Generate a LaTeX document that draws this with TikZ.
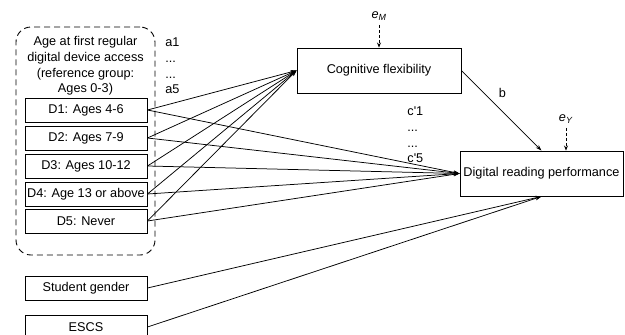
\documentclass[tikz,border=0pt]{standalone}
\usepackage{fontspec}
\setmainfont{Liberation Sans}
\usetikzlibrary{arrows.meta}
\begin{document}
\fontsize{12.7}{15.7}\selectfont
\begin{tikzpicture}[x=1pt,y=-1pt,
    box/.style={draw, line width=0.9pt, minimum width=122pt, minimum height=24pt, inner sep=0pt},
    bigbox/.style={draw, line width=0.9pt, minimum width=164pt, minimum height=45pt, inner sep=0pt},
    link/.style={line width=0.75pt, -{Stealth[length=6pt,width=4pt]}},
    errlink/.style={line width=0.75pt, densely dashed, -{Stealth[length=5pt,width=4pt]}}]
      \useasboundingbox (0,0) rectangle (625,335);
      % dummy group with its title
      \node[draw, dash pattern=on 6pt off 4pt, line width=0.9pt, rounded corners=15pt, minimum width=139pt, minimum height=228pt] (grp) at (85.5,141) {};
      \node[align=center] (gtitle) at (85.5,66) {Age at first regular\\digital device access\\(reference group:\\Ages 0-3)};
      \node[box] (d1) at (86,110) {D1: Ages 4-6};
      \node[box] (d2) at (86,138) {D2: Ages 7-9};
      \node[box] (d3) at (86,166) {D3: Ages 10-12};
      \node[box] (d4) at (86,194) {D4: Age 13 or above};
      \node[box] (d5) at (86,221) {D5: Never};
      % covariates
      \node[box] (gender) at (86,288) {Student gender};
      \node[box] (escs) at (86,327) {ESCS};
      % mediator and outcome
      \node[bigbox] (cf) at (379,70.5) {Cognitive flexibility};
      \node[bigbox, minimum width=163pt] (drp) at (541.5,173.5) {Digital reading performance};
      \node (eM) at (379,16) {\textit{e}\textsubscript{\textit{M}}};
      \node (eY) at (566,119) {\textit{e}\textsubscript{\textit{Y}}};
      \draw[errlink] (eM.south) -- (cf.north);
      \draw[errlink] (eY.south) -- (eY.south |- drp.north);
      % paths a
      \draw[link] (d1.east) -- (cf.west);
      \draw[link] (d2.east) -- (cf.west);
      \draw[link] (d3.east) -- (cf.west);
      \draw[link] (d4.east) -- (cf.west);
      \draw[link] (d5.east) -- (cf.west);
      % paths c'
      \draw[link] (d1.east) -- (drp.west);
      \draw[link] (d2.east) -- (drp.west);
      \draw[link] (d3.east) -- (drp.west);
      \draw[link] (d4.east) -- (drp.west);
      \draw[link] (d5.east) -- (drp.west);
      % path b and covariates
      \draw[link] (cf.east) -- (drp.north) node[pos=0.4, above right, inner sep=5pt] {b};
      \draw[link] (gender.east) -- (drp.south);
      \draw[link] (escs.east) -- (drp.south);
      \node[align=left, anchor=west] (alab) at (161,66) {a1\\...\\...\\a5};
      \node[align=left, anchor=west] (clab) at (403,135) {c\textquotesingle 1\\...\\...\\c\textquotesingle 5};
    \end{tikzpicture}
\end{document}
